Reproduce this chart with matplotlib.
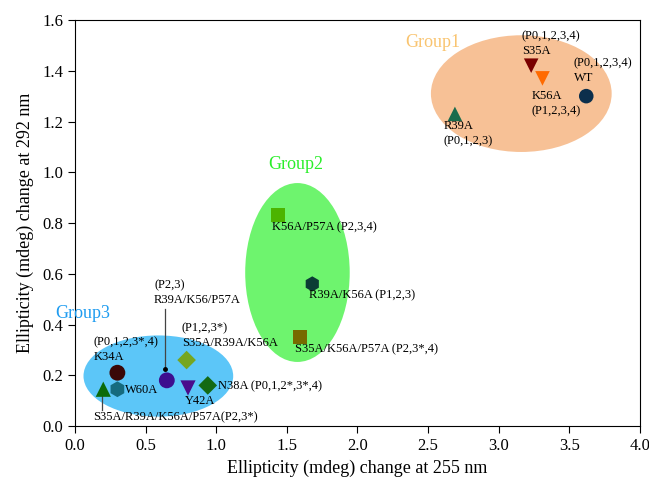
import matplotlib.pyplot as plt
from matplotlib.patches import Ellipse

plt.rcParams['font.family'] = ['Liberation Serif', 'DejaVu Serif']

# mutants: ellipticity change at 255 nm (x) and 292 nm (y)
names = ['WT', 'S35A', 'K56A', 'R39A',
         'K56A/P57A', 'R39A/K56A', 'S35A/K56A/P57A',
         'K34A', 'W60A', 'S35A/R39A/K56A/P57A', 'R39A/K56/P57A',
         'S35A/R39A/K56A', 'Y42A', 'N38A']
x255 = [3.62, 3.23, 3.31, 2.69,
        1.44, 1.68, 1.59,
        0.30, 0.30, 0.20, 0.65,
        0.79, 0.80, 0.94]
y292 = [1.30, 1.42, 1.37, 1.23,
        0.83, 0.56, 0.35,
        0.21, 0.145, 0.145, 0.18,
        0.26, 0.15, 0.16]
markers = ['o', 'v', 'v', '^',
           's', 'h', 's',
           'o', 'h', '^', 'o',
           'D', 'v', 'D']
colors = ['#0c2f4c', '#7a0000', '#ff6a00', '#1a6b4c',
          '#4cb400', '#0b3d35', '#776a00',
          '#3a0808', '#166b7e', '#0b6b0b', '#3d0f8f',
          '#76a620', '#4a0c8c', '#146a14']
sizes = [110, 110, 110, 110,
         100, 120, 100,
         130, 130, 120, 130,
         90, 120, 90]

# group ellipses: centre, width, height
groups = ['Group1', 'Group2', 'Group3']
g_center = [(3.16, 1.31), (1.575, 0.605), (0.59, 0.197)]
g_width = [1.28, 0.74, 1.06]
g_height = [0.46, 0.705, 0.32]
g_fill = ['#f7c196', '#6ef46e', '#5cc6f8']
g_text = ['#f9c470', '#2bee2b', '#1f9cf0']

fig = plt.figure(figsize=(6.49, 4.79), dpi=100)
ax = fig.add_axes([0.1156, 0.1106, 0.8704, 0.8476])

for c, w, h, fc in zip(g_center, g_width, g_height, g_fill):
    ax.add_patch(Ellipse(c, w, h, facecolor=fc, edgecolor='none', zorder=1))

for xi, yi, m, col, s in zip(x255, y292, markers, colors, sizes):
    ax.scatter(xi, yi, marker=m, c=col, s=s, edgecolors='none', zorder=3)

fs = 9
ls = 1.35
ax.text(2.34, 1.51, 'Group1', color=g_text[0], fontsize=13, va='center')
ax.text(1.37, 1.03, 'Group2', color=g_text[1], fontsize=13, va='center')
ax.text(-0.14, 0.445, 'Group3', color=g_text[2], fontsize=13, va='center',
        clip_on=False)

# group 1 labels
ax.text(3.165, 1.56, '(P0,1,2,3,4)\nS35A', fontsize=fs, va='top', linespacing=ls)
ax.text(3.53, 1.455, '(P0,1,2,3,4)\nWT', fontsize=fs, va='top', linespacing=ls)
ax.text(3.235, 1.325, 'K56A\n(P1,2,3,4)', fontsize=fs, va='top', linespacing=ls)
ax.text(2.61, 1.205, 'R39A\n(P0,1,2,3)', fontsize=fs, va='top', linespacing=ls)

# group 2 labels
ax.text(1.395, 0.805, 'K56A/P57A (P2,3,4)', fontsize=fs, va='top')
ax.text(1.66, 0.54, 'R39A/K56A (P1,2,3)', fontsize=fs, va='top')
ax.text(1.56, 0.325, 'S35A/K56A/P57A (P2,3*,4)', fontsize=fs, va='top')

# group 3 labels
ax.text(0.13, 0.355, '(P0,1,2,3*,4)\nK34A', fontsize=fs, va='top', linespacing=ls)
ax.text(0.355, 0.14, 'W60A', fontsize=fs, va='center')
ax.text(0.13, 0.035, 'S35A/R39A/K56A/P57A(P2,3*)', fontsize=fs, va='center')
ax.text(0.56, 0.58, '(P2,3)\nR39A/K56/P57A', fontsize=fs, va='top', linespacing=ls)
ax.text(0.757, 0.41, '(P1,2,3*)\nS35A/R39A/K56A', fontsize=fs, va='top', linespacing=ls)
ax.text(0.78, 0.098, 'Y42A', fontsize=fs, va='center')
ax.text(1.01, 0.158, 'N38A (P0,1,2*,3*,4)', fontsize=fs, va='center')

# leader lines
ax.plot([0.64, 0.64], [0.46, 0.225], color='#444444', lw=0.9, zorder=2)
ax.plot(0.64, 0.225, 'o', color='black', ms=2.5, zorder=2)
ax.plot([0.19, 0.19], [0.122, 0.063], color='#444444', lw=0.9, zorder=2)

ax.set_xlim(0, 4.0)
ax.set_ylim(0, 1.6)
ax.set_xticks([0.0, 0.5, 1.0, 1.5, 2.0, 2.5, 3.0, 3.5, 4.0])
ax.set_yticks([0.0, 0.2, 0.4, 0.6, 0.8, 1.0, 1.2, 1.4, 1.6])
ax.xaxis.set_major_formatter(plt.FormatStrFormatter('%.1f'))
ax.yaxis.set_major_formatter(plt.FormatStrFormatter('%.1f'))
ax.tick_params(direction='out', length=5, labelsize=12, top=False, right=False)
ax.set_xlabel('Ellipticity (mdeg) change at 255 nm', fontsize=13, labelpad=4)
ax.set_ylabel('Ellipticity (mdeg) change at 292 nm', fontsize=13, labelpad=6)

fig.savefig('out.png', dpi=100)
